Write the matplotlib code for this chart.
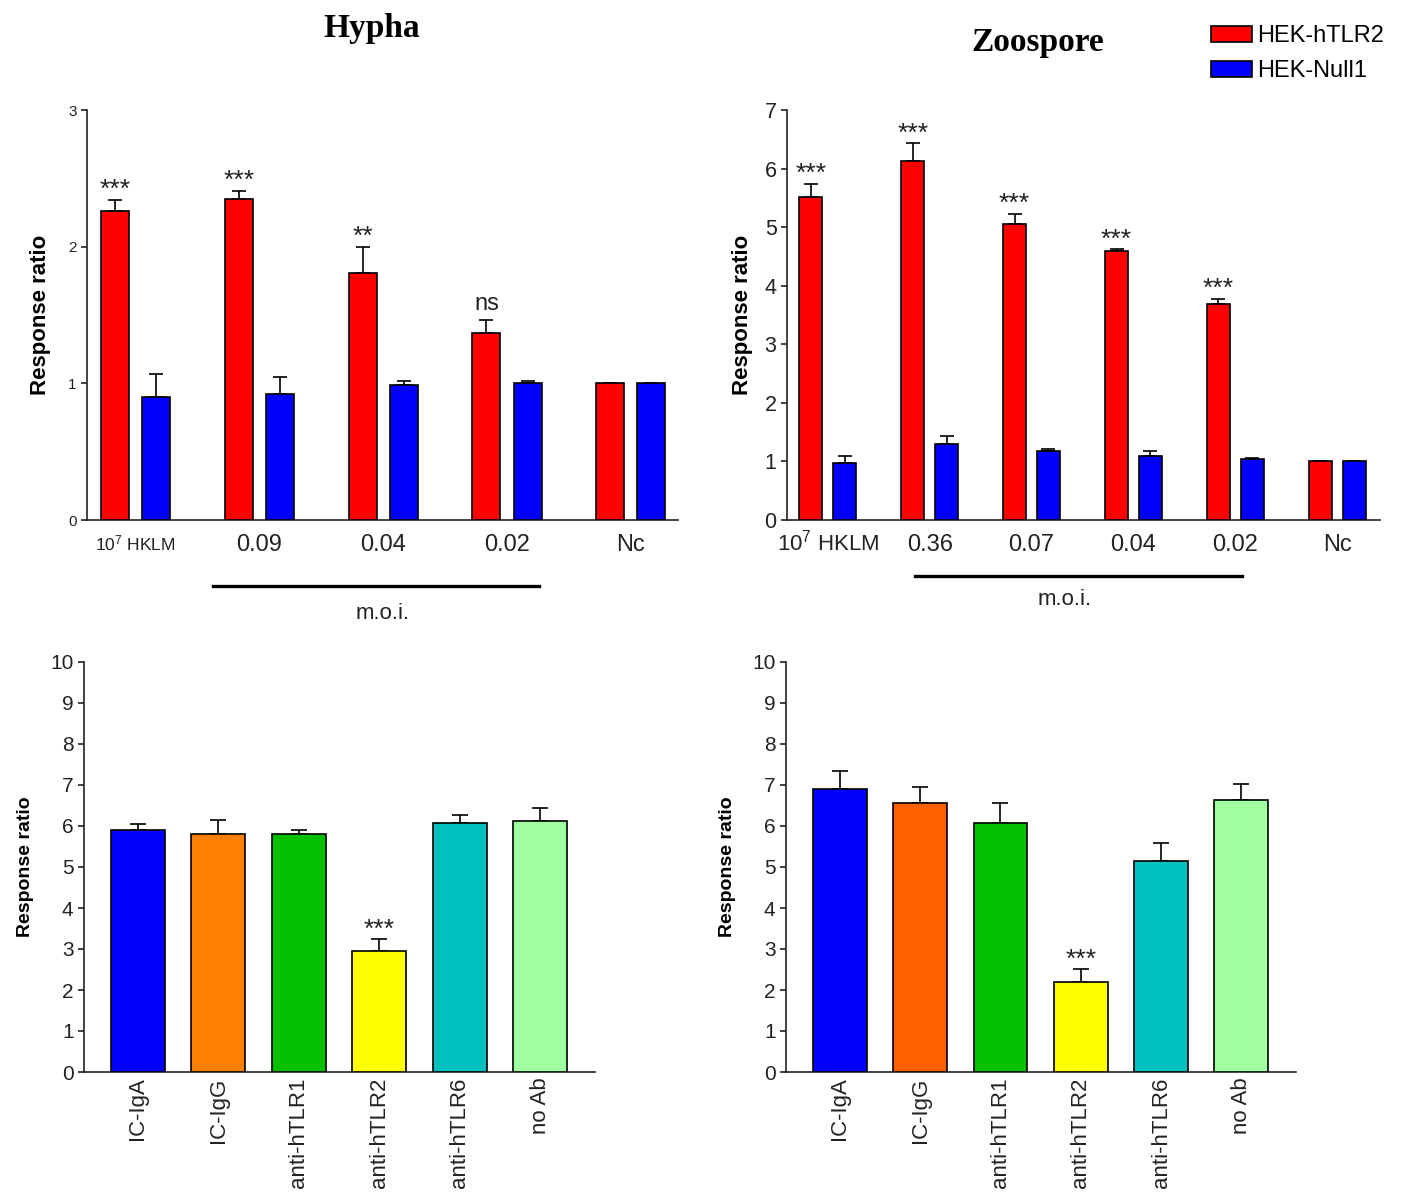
import matplotlib
matplotlib.use("Agg")
import matplotlib.pyplot as plt
import numpy as np

plt.rcParams['font.family'] = ['Liberation Sans', 'DejaVu Sans']
plt.rcParams['mathtext.fontset'] = 'custom'
plt.rcParams['mathtext.rm'] = 'Liberation Sans'
plt.rcParams['mathtext.it'] = 'Liberation Sans'
plt.rcParams['axes.linewidth'] = 1.2

# ---------------- data ----------------
hypha_groups = ["10$^7$ HKLM", "0.09", "0.04", "0.02", "Nc"]
hypha_tlr2 = [2.26, 2.35, 1.81, 1.37, 1.00]
hypha_tlr2_err = [0.08, 0.06, 0.19, 0.09, 0.0]
hypha_null = [0.90, 0.92, 0.99, 1.00, 1.00]
hypha_null_err = [0.17, 0.13, 0.03, 0.02, 0.0]
hypha_sig = ["***", "***", "**", "ns", ""]

zoo_groups = ["10$^7$ HKLM", "0.36", "0.07", "0.04", "0.02", "Nc"]
zoo_tlr2 = [5.52, 6.13, 5.06, 4.59, 3.69, 1.00]
zoo_tlr2_err = [0.22, 0.30, 0.17, 0.03, 0.08, 0.0]
zoo_null = [0.98, 1.29, 1.17, 1.09, 1.04, 1.00]
zoo_null_err = [0.11, 0.14, 0.05, 0.08, 0.02, 0.0]
zoo_sig = ["***", "***", "***", "***", "***", ""]

ab_labels = ["IC-IgA", "IC-IgG", "anti-hTLR1", "anti-hTLR2", "anti-hTLR6", "no Ab"]
hypha_ab = [5.91, 5.80, 5.80, 2.96, 6.07, 6.12]
hypha_ab_err = [0.15, 0.35, 0.11, 0.28, 0.21, 0.31]
hypha_ab_sig = ["", "", "", "***", "", ""]
zoo_ab = [6.91, 6.55, 6.07, 2.20, 5.15, 6.63]
zoo_ab_err = [0.44, 0.40, 0.48, 0.31, 0.44, 0.40]
zoo_ab_sig = ["", "", "", "***", "", ""]

series_labels = ["HEK-hTLR2", "HEK-Null1"]
series_colors = ["#FF0000", "#0000FF"]
hypha_ab_colors = ["#0000FF", "#FF8000", "#00C000", "#FFFF00", "#00C0C0", "#A0FFA0"]
zoo_ab_colors = ["#0000FF", "#FF6000", "#00C000", "#FFFF00", "#00C0C0", "#A0FFA0"]

W, H = 1401, 1194
fig = plt.figure(figsize=(W / 100, H / 100), dpi=100)


def ax_at(x0, y0, x1, y1):
    return fig.add_axes([x0 / W, 1 - y1 / H, (x1 - x0) / W, (y1 - y0) / H])


def style(ax):
    for s in ["top", "right"]:
        ax.spines[s].set_visible(False)
    ax.spines["left"].set_color("#222222")
    ax.spines["bottom"].set_color("#222222")


def paired(ax, groups, v1, e1, v2, e2, sig, xlim, ylim, yticks, ytick_fs, xtick_fs, sig_fs):
    x = np.arange(len(groups))
    off, bw = 0.166, 0.226
    for vals, errs, c, d, lab in [(v1, e1, series_colors[0], -off, series_labels[0]),
                                   (v2, e2, series_colors[1], off, series_labels[1])]:
        ax.bar(x + d, vals, bw, color=c, edgecolor="black", linewidth=1.2, zorder=3, label=lab)
        ax.errorbar(x + d, vals, yerr=[np.zeros(len(vals)), errs], fmt="none",
                    ecolor="black", elinewidth=1.2, capsize=5, capthick=1.2, zorder=2)
    for xi, v, e, s in zip(x, v1, e1, sig):
        if s == "ns":
            ax.annotate(s, (xi - off, v + e), xytext=(0, 4), textcoords="offset points",
                        ha="center", va="bottom", fontsize=17, color="#222222")
        elif s:
            ax.annotate(s, (xi - off, v + e), xytext=(0, -1.5), textcoords="offset points",
                        ha="center", va="bottom", fontsize=sig_fs, color="#222222")
    ax.set_xlim(*xlim)
    ax.set_ylim(*ylim)
    ax.set_yticks(yticks)
    ax.tick_params(axis="y", labelsize=ytick_fs, length=4, width=1.2, colors="#222222")
    ax.set_xticks(x)
    ax.set_xticklabels(groups, va="baseline")
    ax.tick_params(axis="x", length=0, pad=22, labelsize=xtick_fs, colors="#222222")
    style(ax)


# Top-left: Hypha
ax1 = ax_at(87, 110, 678, 520)
paired(ax1, hypha_groups, hypha_tlr2, hypha_tlr2_err, hypha_null, hypha_null_err, hypha_sig,
       (-0.39, 4.38), (0, 3), [0, 1, 2, 3], 11, 17, 19)
ax1.get_xticklabels()[0].set_fontsize(12.5)
ax1.set_ylabel("Response ratio", fontsize=16, fontweight="bold", labelpad=12)
ax1.plot([0.63, 3.26], [-0.161, -0.161], transform=ax1.get_xaxis_transform(), color="black",
         lw=2.4, clip_on=False)
ax1.text(2.0, -0.228, "m.o.i.", transform=ax1.get_xaxis_transform(), ha="center", va="center",
         fontsize=16, color="#222222")

# Top-right: Zoospore
ax2 = ax_at(787, 110, 1380, 520)
paired(ax2, zoo_groups, zoo_tlr2, zoo_tlr2_err, zoo_null, zoo_null_err, zoo_sig,
       (-0.40, 5.42), (0, 7), list(range(8)), 15.5, 17, 19)
ax2.get_xticklabels()[0].set_fontsize(16)
ax2.set_ylabel("Response ratio", fontsize=16, fontweight="bold", labelpad=8)
ax2.plot([0.86, 4.07], [-0.137, -0.137], transform=ax2.get_xaxis_transform(), color="black",
         lw=2.4, clip_on=False)
ax2.text(2.32, -0.195, "m.o.i.", transform=ax2.get_xaxis_transform(), ha="center", va="center",
         fontsize=16, color="#222222")


def ab_panel(ax, vals, errs, colors, sig):
    x = np.arange(len(ab_labels))
    ax.bar(x, vals, 0.67, color=colors, edgecolor="black", linewidth=1.2, zorder=3)
    ax.errorbar(x, vals, yerr=[np.zeros(len(vals)), errs], fmt="none", ecolor="black",
                elinewidth=1.2, capsize=5.5, capthick=1.2, zorder=2)
    for xi, v, e, s in zip(x, vals, errs, sig):
        if s:
            ax.annotate(s, (xi, v + e), xytext=(0, -2), textcoords="offset points",
                        ha="center", va="bottom", fontsize=19, color="#222222")
    ax.set_xlim(-0.67, 5.68)
    ax.set_ylim(0, 10)
    ax.set_yticks(range(11))
    ax.tick_params(axis="y", labelsize=15, length=4, width=1.2, colors="#222222")
    ax.set_xticks(x)
    ax.set_xticklabels(ab_labels, rotation=90, va="top", ha="center")
    ax.tick_params(axis="x", length=0, pad=4, labelsize=16, colors="#222222")
    ax.set_ylabel("Response ratio", fontsize=14, fontweight="bold", labelpad=12)
    style(ax)


ax3 = ax_at(84, 662, 595, 1072)
ab_panel(ax3, hypha_ab, hypha_ab_err, hypha_ab_colors, hypha_ab_sig)
ax4 = ax_at(786, 662, 1296, 1072)
ab_panel(ax4, zoo_ab, zoo_ab_err, zoo_ab_colors, zoo_ab_sig)

# Titles
fig.text(372 / W, 1 - 29 / H, "Hypha", fontsize=24, fontweight="bold", family="Liberation Serif",
         ha="center", va="center")
fig.text(1038 / W, 1 - 42 / H, "Zoospore", fontsize=24, fontweight="bold", family="Liberation Serif",
         ha="center", va="center")

# Legend
h, l = ax2.get_legend_handles_labels()
fig.legend(h, l, loc="upper left", bbox_to_anchor=(1209 / W, 1 - 23 / H), frameon=False,
           fontsize=17, handlelength=1.7, handleheight=0.7, handletextpad=0.25, labelspacing=0.55,
           borderaxespad=0, borderpad=0.1)

fig.savefig("out.png", dpi=100)
